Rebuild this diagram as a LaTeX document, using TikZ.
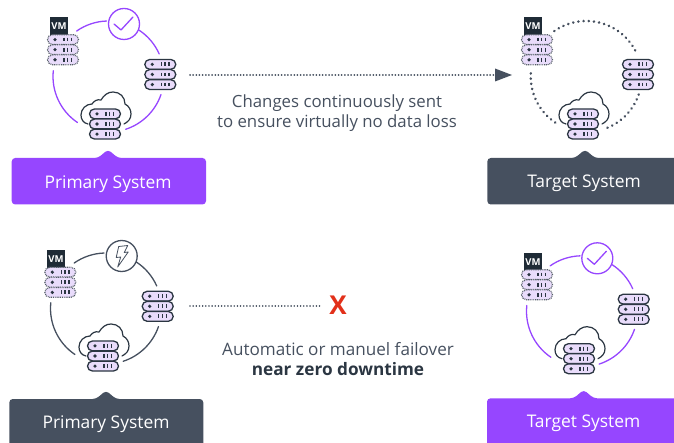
\documentclass[tikz,border=0pt]{standalone}
\usepackage{fontspec}
\setmainfont{Open Sans}
\definecolor{vio}{HTML}{9646FF}
\definecolor{slate}{HTML}{46505F}
\definecolor{ink}{HTML}{2B3642}
\definecolor{lav}{HTML}{E9DCFB}
\definecolor{vmbox}{HTML}{1F2B36}
\definecolor{redx}{HTML}{E2301A}
\tikzset{
  bar/.style={fill=lav,draw=ink,line width=1.3pt,rounded corners=4.9pt},
  vmbar/.style={fill=lav,draw=ink!80,line width=1.2pt,dash pattern=on 0.9pt off 0.9pt,rounded corners=4.9pt},
  ringv/.style={draw=vio,line width=1.3pt,line cap=round},
  rings/.style={draw=slate,line width=1.3pt,line cap=round},
  ringd/.style={draw=slate,line width=2.8pt,line cap=round,dash pattern=on 0.01pt off 5.2pt},
  badge/.style={circle,minimum size=31pt,inner sep=0pt,fill=white,line width=1.3pt},
  syslabel/.style={text=white,font=\fontsize{17.4}{20}\selectfont,inner sep=0pt},
  captext/.style={text=slate,font=\fontsize{16.8}{20}\selectfont,inner sep=0pt},
  dotline/.style={draw=slate,line width=2pt,line cap=round,dash pattern=on 0.01pt off 3.15pt}
}
\newcommand{\serverstack}[3]{%
  \begin{scope}[shift={(#1,#2)}]
    \foreach \yy in {-10.1,0,10.1}{
      \path[#3] (-15.5,\yy-4.9) rectangle (15.5,\yy+4.9);
      \fill[ink] (-8,\yy) circle (1.8);
      \foreach \xx in {1,4.8,8.6}
        \draw[ink,line width=1.3pt] (\xx,\yy-1.9) -- (\xx,\yy+1.9);
    }
  \end{scope}}
\newcommand{\cloudshape}[2]{%
  \draw[ink,line width=1.2pt,line cap=round,shift={(#1,#2)}]
    (-17,0) .. controls (-22,-1) and (-24,-5) .. (-24,-9)
    .. controls (-24,-15) and (-19,-20) .. (-13,-20)
    .. controls (-11,-23) and (-8,-25) .. (-4,-24)
    .. controls (-1,-29) and (3,-32) .. (8,-32)
    .. controls (15,-32) and (20,-27) .. (20,-20)
    .. controls (24,-18) and (26,-14) .. (26,-10)
    .. controls (26,-5) and (23,-2) .. (19,0);}
\newcommand{\vmtag}[2]{%
  \fill[vmbox] (#1-9,#2-17) rectangle (#1+9,#2+1);
  \node[text=white,font=\bfseries\fontsize{9.5}{10}\selectfont,inner sep=0pt] at (#1,#2-8) {VM};}
\newcommand{\ringlow}[3]{%
  \begin{scope}[shift={(#1,#2)},yscale=-1]
    \draw[#3] (-124:55.5) arc[start angle=-124,end angle=-186,radius=55.5];
    \draw[#3] (-19:55.5) arc[start angle=-19,end angle=-72,radius=55.5];
  \end{scope}}
\newcommand{\ringarcs}[3]{%
  \ringlow{#1}{#2}{#3}
  \begin{scope}[shift={(#1,#2)},yscale=-1]
    \draw[#3] (125:55.5) arc[start angle=125,end angle=92,radius=55.5];
    \draw[#3] (57:55.5) arc[start angle=57,end angle=24,radius=55.5];
  \end{scope}}
\newcommand{\plate}[6]{%
  \fill[#6,rounded corners=3.5pt] (#1,#3) -- (#5-10,#3) -- (#5,#3-8.5) -- (#5+10,#3) -- (#2,#3) -- (#2,#4) -- (#1,#4) -- cycle;}
\begin{document}
\begin{tikzpicture}[x=1pt,y=-1pt]
\useasboundingbox (0,0) rectangle (674,443);
\begin{scope}
\clip (0,0) rectangle (674,443);
% ---------- top left
\ringarcs{108.5}{76.5}{ringv}
\node[badge,draw=vio] (b1) at (124,24) {};
\draw[vio,line width=1.3pt,line join=round,line cap=round] (114,24) -- (121,30) -- (133,17);
\vmtag{59}{34.3}
\serverstack{63}{49.7}{vmbar}
\serverstack{160.3}{74.5}{bar}
\cloudshape{105}{124}
\serverstack{105}{124}{bar}
\plate{11.7}{206}{158}{204.5}{108}{vio}
\node[syslabel] (p1) at (108,184) {Primary System};
% ---------- top right
\ringlow{586.2}{76.5}{ringd}
\begin{scope}[shift={(586.2,76.5)},yscale=-1]
  \draw[ringd] (125:55.5) arc[start angle=125,end angle=24,radius=55.5];
\end{scope}
\vmtag{533}{34.3}
\serverstack{537}{49.7}{vmbar}
\serverstack{638}{74.5}{bar}
\cloudshape{583}{124}
\serverstack{583}{124}{bar}
\plate{487.3}{690}{158}{204.5}{585}{slate}
\node[syslabel] (t1) at (584,183) {Target System};
% ---------- bottom left
\ringarcs{106}{308.5}{rings}
\node[badge,draw=slate] (b2) at (121.7,256) {};
\draw[slate,line width=.8pt,line join=round,shift={(121.7,256)}]
  (-3,-9.5) -- (6,-10.5) -- (2.5,-3.5) -- (6.5,-4) -- (-4,11) -- (-1,1) -- (-5.5,1.5) -- cycle;
\vmtag{56}{266.7}
\serverstack{60.3}{282.3}{vmbar}
\serverstack{157.7}{306.3}{bar}
\cloudshape{103}{356}
\serverstack{103}{356}{bar}
\plate{9.3}{203.3}{399}{460}{106}{slate}
\node[syslabel] (p2) at (106,424) {Primary System};
% ---------- bottom right
\ringarcs{582}{311.3}{ringv}
\node[badge,draw=vio] (b3) at (597.3,258.3) {};
\draw[vio,line width=1.3pt,line join=round,line cap=round,shift={(597.3,258.3)}] (-10,0) -- (-3,6) -- (9,-7);
\vmtag{533}{269.8}
\serverstack{537}{284.7}{vmbar}
\serverstack{633.7}{309.3}{bar}
\cloudshape{579}{358.7}
\serverstack{579}{358.7}{bar}
\plate{487}{690}{398.3}{460}{583.7}{vio}
\node[syslabel] (t2) at (583.5,423) {Target System};
\end{scope}
% ---------- connectors
\coordinate (a1) at (190,75);
\coordinate (a2) at (496,75);
\coordinate (a3) at (512,75);
\draw[dotline] (a1) -- (a2);
\fill[slate] (495,68.5) -- (a3) -- (495,81.5) -- cycle;
\coordinate (c1) at (190,305.7);
\coordinate (c2) at (320,305.7);
\node[text=redx,font=\bfseries\fontsize{26}{28}\selectfont,inner sep=0pt] (x) at (338,305.7) {X};
\draw[dotline,line width=1.7pt] (c1) -- (c2);
\node[captext] (l1) at (337,102.7) {Changes continuously sent};
\node[captext] (l2) at (337,123) {to ensure virtually no data loss};
\node[captext,font=\fontsize{17.1}{20}\selectfont] (l3) at (338,348.7) {Automatic or manuel failover};
\node[captext,text=ink,font=\bfseries\fontsize{17.2}{20}\selectfont] (l4) at (338,369) {near zero downtime};
\end{tikzpicture}
\end{document}
